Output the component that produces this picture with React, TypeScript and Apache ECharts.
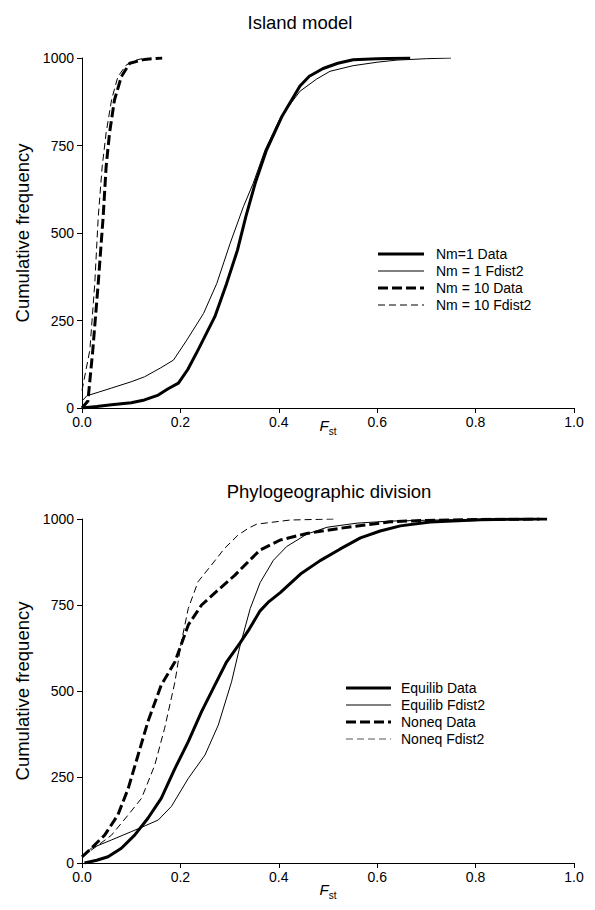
import React, { useEffect, useRef } from "react";
import * as echarts from "echarts";

// ---- Data ----
const xTickValues = [0, 0.2, 0.4, 0.6, 0.8, 1.0];
const yTickValues = [0, 250, 500, 750, 1000];

const islandSeriesNames = ["Nm=1 Data", "Nm = 1 Fdist2", "Nm = 10 Data", "Nm = 10 Fdist2"];
const phyloSeriesNames = ["Equilib Data", "Equilib Fdist2", "Noneq Data", "Noneq Fdist2"];

const islandNm1Data: [number, number][] = [
  [0, 0], [0.03, 4], [0.06, 9], [0.1, 15], [0.127, 23], [0.155, 37], [0.175, 55], [0.196, 71],
  [0.215, 110], [0.236, 166], [0.27, 261], [0.294, 356], [0.316, 451], [0.333, 547],
  [0.352, 642], [0.375, 737], [0.406, 832], [0.443, 920], [0.462, 948], [0.49, 970],
  [0.52, 985], [0.551, 995], [0.6, 998], [0.667, 1000],
];
const islandNm1Fdist2: [number, number][] = [
  [0, 20], [0.01, 35], [0.033, 45], [0.06, 57], [0.1, 75], [0.127, 89], [0.159, 114],
  [0.186, 137], [0.213, 194], [0.247, 270], [0.274, 356], [0.301, 470], [0.328, 575],
  [0.348, 642], [0.372, 737], [0.404, 832], [0.443, 905], [0.477, 940], [0.504, 962],
  [0.551, 978], [0.6, 988], [0.64, 994], [0.7, 998], [0.75, 1000],
];
const islandNm10Data: [number, number][] = [
  [0, 0], [0.012, 20], [0.022, 166], [0.033, 357], [0.043, 546], [0.049, 689], [0.056, 786],
  [0.066, 880], [0.08, 947], [0.097, 985], [0.127, 996], [0.163, 1000],
];
const islandNm10Fdist2: [number, number][] = [
  [0, 50], [0.016, 166], [0.026, 357], [0.033, 546], [0.041, 689], [0.049, 786], [0.06, 880],
  [0.073, 947], [0.09, 980], [0.112, 995], [0.13, 1000],
];

const phyloEquilibData: [number, number][] = [
  [0.005, 0], [0.03, 8], [0.053, 18], [0.08, 43], [0.107, 81], [0.134, 130], [0.161, 188],
  [0.189, 275], [0.216, 353], [0.243, 440], [0.27, 517], [0.294, 585], [0.321, 639],
  [0.34, 680], [0.362, 733], [0.38, 760], [0.403, 786], [0.444, 840], [0.484, 879],
  [0.525, 913], [0.566, 945], [0.606, 965], [0.647, 980], [0.708, 991], [0.81, 998],
  [0.93, 1000],
];
const phyloEquilibFdist2: [number, number][] = [
  [0, 18], [0.019, 43], [0.06, 67], [0.1, 91], [0.128, 108], [0.155, 125], [0.182, 165],
  [0.216, 246], [0.25, 314], [0.277, 401], [0.304, 527], [0.321, 630], [0.342, 740],
  [0.362, 815], [0.389, 880], [0.416, 920], [0.457, 956], [0.498, 976], [0.559, 988],
  [0.627, 994], [0.75, 998], [0.9, 1000],
];
const phyloNoneqData: [number, number][] = [
  [0, 18], [0.019, 43], [0.046, 81], [0.073, 140], [0.094, 217], [0.114, 314], [0.134, 411],
  [0.161, 517], [0.189, 585], [0.216, 692], [0.243, 750], [0.277, 794], [0.311, 837],
  [0.338, 876], [0.362, 910], [0.403, 939], [0.457, 958], [0.525, 973], [0.606, 988],
  [0.627, 992], [0.7, 996], [0.83, 999], [0.946, 1000],
];
const phyloNoneqFdist2: [number, number][] = [
  [0, 18], [0.033, 52], [0.06, 81], [0.094, 140], [0.121, 188], [0.148, 285], [0.168, 392],
  [0.189, 527], [0.202, 643], [0.216, 740], [0.236, 818], [0.263, 866], [0.29, 915],
  [0.317, 953], [0.338, 973], [0.355, 985], [0.423, 997], [0.511, 1000],
];

const FONT = "'Liberation Sans', Arial, Helvetica, sans-serif";

const styles = [
  { width: 3, type: "solid" as any },
  { width: 1, type: "solid" as any },
  { width: 3, type: [10, 4] as any },
  { width: 1, type: [7, 4] as any },
];

function makeAxes(gridIndex: number, nameGap: number) {
  const xAxis = {
    type: "value",
    gridIndex,
    min: 0,
    max: 1,
    interval: 0.2,
    name: "{f|F}{s|st}",
    nameLocation: "middle",
    nameGap,
    nameMoveOverlap: false,
    nameTextStyle: {
      rich: {
        f: { fontFamily: FONT, fontStyle: "italic", fontSize: 15, color: "#000", lineHeight: 18, verticalAlign: "top" },
        s: { fontFamily: FONT, fontSize: 10, color: "#000", lineHeight: 18, verticalAlign: "bottom", padding: [9, 0, 0, 0] },
      },
    },
    axisLine: { show: true, lineStyle: { color: "#000", width: 1 } },
    axisTick: { show: true, inside: false, length: 5, lineStyle: { color: "#000" } },
    axisLabel: {
      color: "#000",
      fontFamily: FONT,
      fontSize: 14,
      margin: 7,
      formatter: (v: number) => (xTickValues.some((t) => Math.abs(t - v) < 1e-9) ? v.toFixed(1) : ""),
    },
    splitLine: { show: false },
  };
  const yAxis = {
    type: "value",
    gridIndex,
    min: 0,
    max: 1000,
    interval: 250,
    name: "Cumulative frequency",
    nameLocation: "middle",
    nameGap: 50,
    nameRotate: 90,
    nameTextStyle: { fontFamily: FONT, fontSize: 18.5, color: "#000" },
    axisLine: { show: true, lineStyle: { color: "#000", width: 1 } },
    axisTick: { show: true, inside: false, length: 5, lineStyle: { color: "#000" } },
    axisLabel: {
      color: "#000",
      fontFamily: FONT,
      fontSize: 14,
      margin: 8,
      formatter: (v: number) => (yTickValues.includes(v) ? String(v) : ""),
    },
    splitLine: { show: false },
  };
  return { xAxis, yAxis };
}

function legendGraphics(names: string[], lineX0: number, lineX1: number, textX: number, rowYs: number[], thinDashColor: string) {
  const els: any[] = [];
  names.forEach((n, i) => {
    const s = styles[i];
    els.push({
      type: "line",
      shape: { x1: lineX0, y1: rowYs[i], x2: lineX1, y2: rowYs[i] },
      style: {
        stroke: i === 3 ? thinDashColor : "#000",
        lineWidth: s.width,
        lineDash: Array.isArray(s.type) ? s.type : null,
      },
      silent: true,
    });
    els.push({
      type: "text",
      x: textX,
      y: rowYs[i],
      style: {
        text: n,
        fontFamily: FONT,
        fontSize: 14,
        fill: "#000",
        textVerticalAlign: "middle",
        verticalAlign: "middle",
      },
      silent: true,
    });
  });
  return els;
}

export default function App() {
  const ref = useRef<HTMLDivElement>(null);
  useEffect(() => {
    if (!ref.current) return;
    const chart = echarts.init(ref.current, null, { renderer: "svg" });
    const a0 = makeAxes(0, 10);
    const a1 = makeAxes(1, 19);
    const islandSets = [islandNm1Data, islandNm1Fdist2, islandNm10Data, islandNm10Fdist2];
    const phyloSets = [phyloEquilibData, phyloEquilibFdist2, phyloNoneqData, phyloNoneqFdist2];
    const series: any[] = [];
    const addSeries = (sets: [number, number][][], names: string[], idx: number) => {
      sets.forEach((d, i) => {
        series.push({
          type: "line",
          name: names[i],
          xAxisIndex: idx,
          yAxisIndex: idx,
          data: d,
          showSymbol: false,
          symbol: "none",
          smooth: false,
          lineStyle: { color: "#000", width: styles[i].width, type: styles[i].type, join: "round" },
          z: 10 - i,
        });
      });
    };
    addSeries(islandSets, islandSeriesNames, 0);
    addSeries(phyloSets, phyloSeriesNames, 1);
    chart.setOption({
      animation: false,
      backgroundColor: "#fff",
      grid: [
        { left: 82, right: 21, top: 58, height: 350 },
        { left: 82, right: 21, top: 519, height: 344 },
      ],
      xAxis: [a0.xAxis, a1.xAxis],
      yAxis: [a0.yAxis, a1.yAxis],
      series,
      graphic: [
        {
          type: "text",
          x: 300,
          y: 22,
          style: { text: "Island model", fontFamily: FONT, fontSize: 18.5, fill: "#000", textAlign: "center", textVerticalAlign: "middle", align: "center", verticalAlign: "middle" },
        },
        {
          type: "text",
          x: 329,
          y: 491,
          style: { text: "Phylogeographic division", fontFamily: FONT, fontSize: 18.5, fill: "#000", textAlign: "center", textVerticalAlign: "middle", align: "center", verticalAlign: "middle" },
        },
        ...legendGraphics(islandSeriesNames, 378, 424, 436, [254, 271, 288, 305], "#000"),
        ...legendGraphics(phyloSeriesNames, 346, 391, 401, [688, 705, 722, 739], "#555"),
      ],
    });
    return () => chart.dispose();
  }, []);
  return <div ref={ref} style={{ position: "fixed", left: 0, top: 0, width: 595, height: 910 }} />;
}
